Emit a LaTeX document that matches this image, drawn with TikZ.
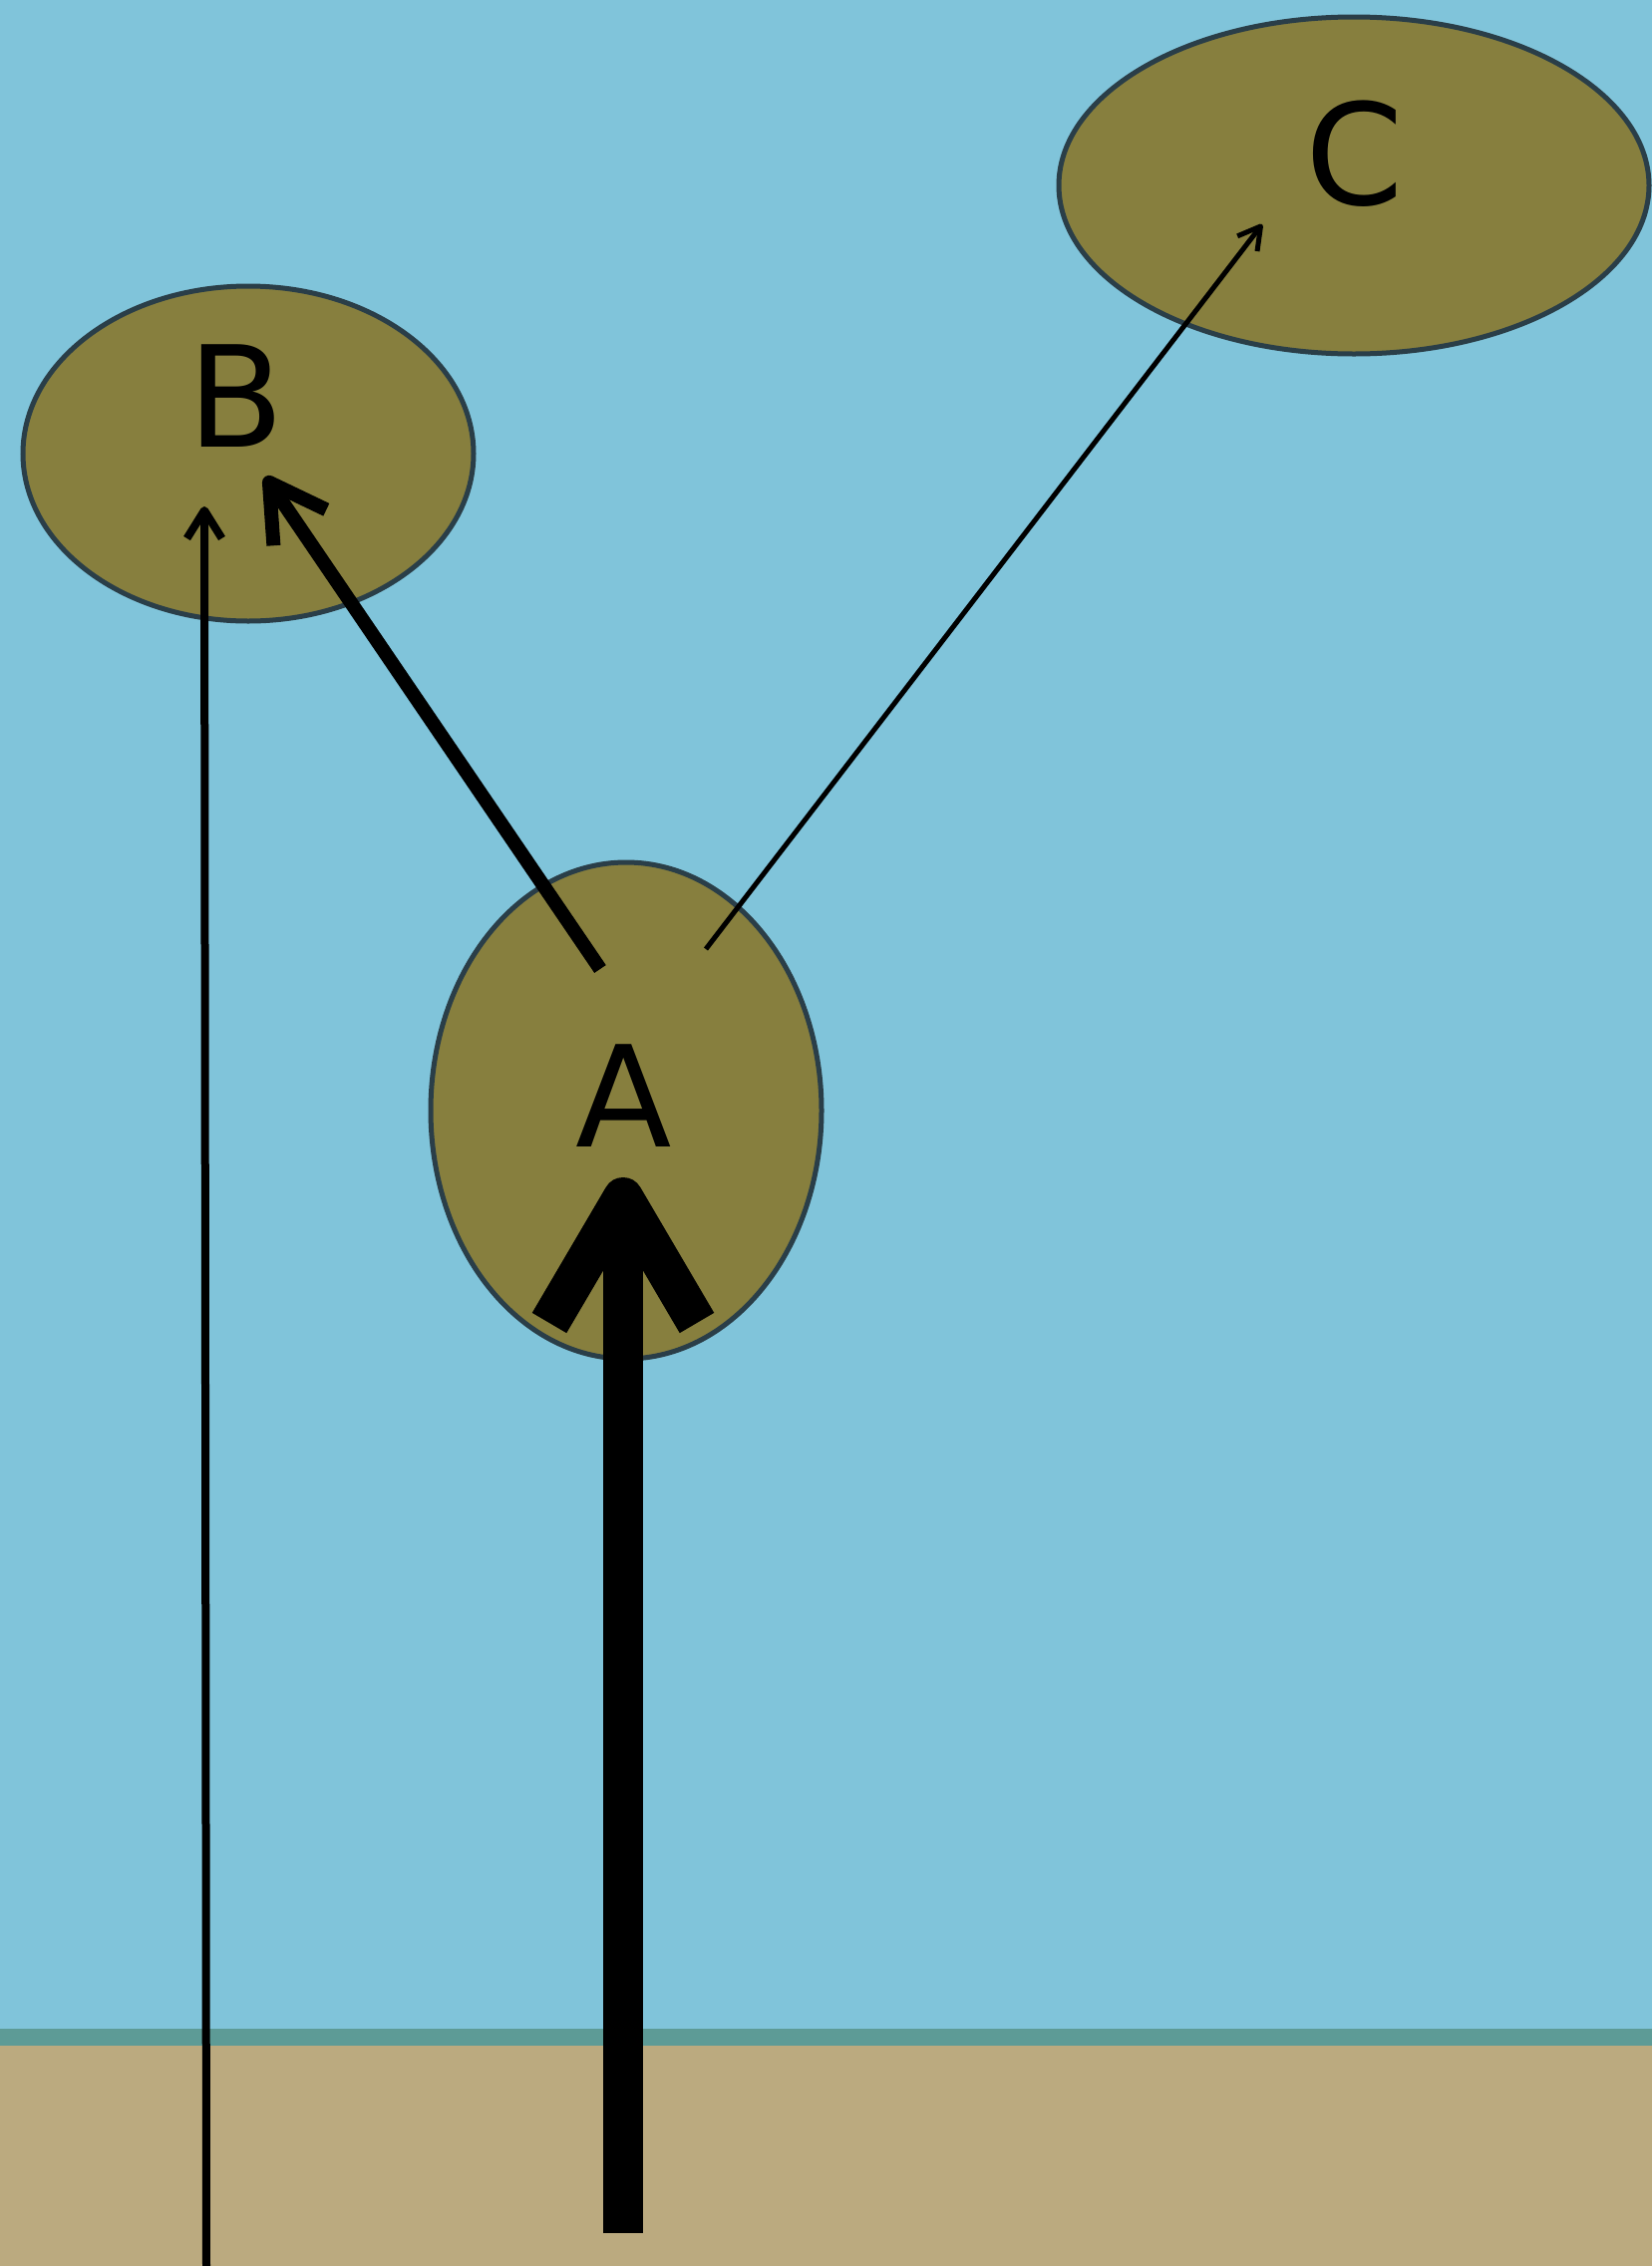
\documentclass[tikz,border=0pt]{standalone}
\usepackage{fontspec}
\setmainfont{DejaVu Sans}
\usetikzlibrary{arrows.meta,shapes.geometric}
\definecolor{sky}{HTML}{80C4DA}
\definecolor{ground}{HTML}{BBAA7F}
\definecolor{horizon}{HTML}{5D9B96}
\definecolor{olive}{HTML}{877F3E}
\definecolor{rim}{HTML}{2A3E48}
\begin{document}
\begin{tikzpicture}[x=1pt,y=-1pt,
  blob/.style={ellipse, draw=rim, line width=5pt, fill=olive, inner sep=0pt},
  letter/.style={font=\fontsize{141}{150}\selectfont, inner sep=0pt, text=black, anchor=base},
  hugearrow/.style={line width=40pt, -{Straight Barb[length=126pt,width=148pt,line join=round]}},
  thickarrow/.style={line width=14pt, -{Straight Barb[length=55pt,width=64pt,line join=round]}},
  thinarrow/.style={line width=8pt, -{Straight Barb[length=28pt,width=35pt,line join=round]}},
  finearrow/.style={line width=5pt, -{Straight Barb[length=22pt,width=25pt,line join=round]}}]
\fill[sky] (0,0) rectangle (1657,2035);
\fill[horizon] (0,2035) rectangle (1657,2052);
\fill[ground] (0,2052) rectangle (1657,2273);
\useasboundingbox (0,0) rectangle (1657,2273);

\node[blob, minimum width=452pt, minimum height=336pt] (B) at (249,455) {};
\node[blob, minimum width=592pt, minimum height=338pt] (C) at (1358,186) {};
\node[blob, minimum width=392pt, minimum height=498pt] (A) at (628,1114) {};

\node[letter] (la) at (626,1150) {A};
\node[letter] (lb) at (237,448) {B};
\node[letter] (lc) at (1359,205) {C};

\coordinate (gB) at (207,2273);
\coordinate (tB) at (205,508);
\coordinate (gA) at (625,2240);
\coordinate (tA) at (625,1181);
\coordinate (sAB) at (602,972);
\coordinate (tAB) at (266,478);
\coordinate (sAC) at (708,952);
\coordinate (tAC) at (1266,225);

\draw[thinarrow] (gB) -- (tB);
\draw[hugearrow] (gA) -- (tA);
\draw[thickarrow] (sAB) -- (tAB);
\draw[finearrow] (sAC) -- (tAC);
\end{tikzpicture}
\end{document}
